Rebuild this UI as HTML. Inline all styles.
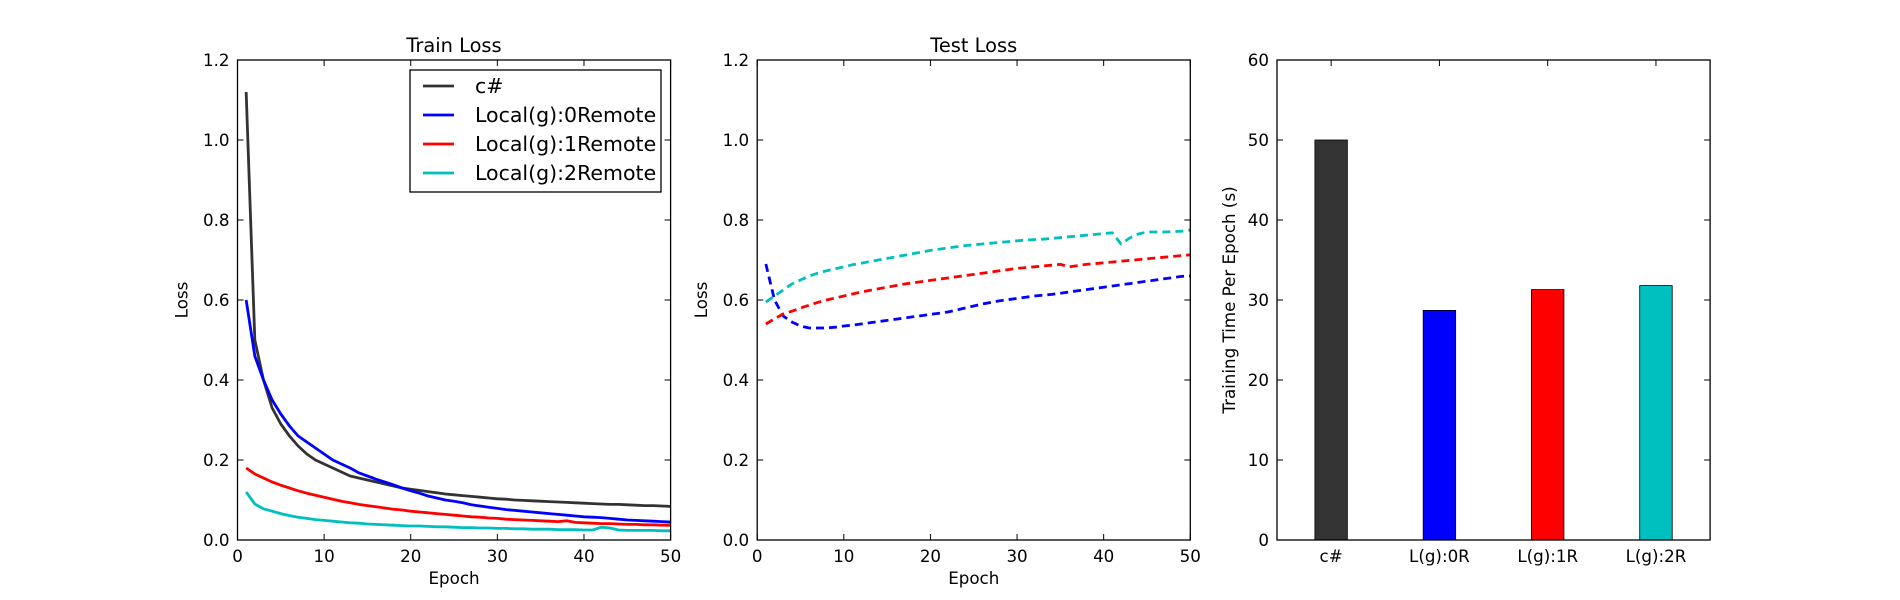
<!DOCTYPE html>
<html><head><meta charset="utf-8"><style>
html,body{margin:0;padding:0;background:#fff;}
svg{display:block;font-family:"DejaVu Sans","Liberation Sans",sans-serif;}
</style></head><body>
<svg id="fig" width="1900" height="600" viewBox="0 0 1900 600" xmlns="http://www.w3.org/2000/svg"></svg>
<script>
const epochs = Array.from({length:50},(_,i)=>i+1);
const trainCsharp = [1.12,0.50,0.40,0.33,0.29,0.26,0.235,0.215,0.2,0.19,0.18,0.17,0.16,0.155,0.15,0.145,0.14,0.135,0.13,0.127,0.124,0.121,0.118,0.115,0.113,0.111,0.109,0.107,0.105,0.103,0.102,0.1,0.099,0.098,0.097,0.096,0.095,0.094,0.093,0.092,0.091,0.09,0.089,0.089,0.088,0.087,0.086,0.086,0.085,0.084];
const trainL0 = [0.60,0.46,0.40,0.35,0.315,0.285,0.26,0.245,0.23,0.215,0.2,0.19,0.18,0.168,0.16,0.152,0.145,0.138,0.13,0.123,0.117,0.11,0.105,0.1,0.097,0.093,0.088,0.085,0.082,0.079,0.076,0.074,0.072,0.07,0.068,0.066,0.064,0.062,0.06,0.058,0.057,0.056,0.054,0.052,0.05,0.049,0.048,0.047,0.046,0.045];
const trainL1 = [0.18,0.165,0.155,0.145,0.137,0.13,0.123,0.117,0.112,0.107,0.102,0.097,0.093,0.089,0.086,0.083,0.08,0.077,0.075,0.072,0.07,0.068,0.066,0.064,0.062,0.06,0.058,0.057,0.055,0.054,0.052,0.051,0.05,0.049,0.048,0.047,0.046,0.048,0.044,0.043,0.042,0.041,0.041,0.04,0.039,0.039,0.038,0.038,0.037,0.037];
const trainL2 = [0.12,0.09,0.078,0.072,0.066,0.061,0.057,0.054,0.051,0.049,0.047,0.045,0.043,0.042,0.04,0.039,0.038,0.037,0.036,0.035,0.035,0.034,0.033,0.033,0.032,0.031,0.031,0.03,0.03,0.029,0.029,0.028,0.028,0.027,0.027,0.027,0.026,0.026,0.026,0.025,0.025,0.032,0.03,0.025,0.024,0.024,0.024,0.024,0.023,0.023];
const testL0 = [0.69,0.60,0.56,0.545,0.535,0.53,0.53,0.53,0.532,0.535,0.537,0.54,0.543,0.546,0.549,0.552,0.555,0.558,0.561,0.564,0.567,0.57,0.575,0.58,0.585,0.59,0.594,0.598,0.601,0.604,0.607,0.61,0.612,0.614,0.617,0.62,0.623,0.626,0.629,0.632,0.635,0.638,0.641,0.644,0.647,0.65,0.653,0.656,0.659,0.66];
const testL1 = [0.54,0.553,0.565,0.572,0.58,0.587,0.594,0.6,0.605,0.61,0.615,0.62,0.624,0.628,0.632,0.636,0.64,0.643,0.646,0.649,0.652,0.655,0.658,0.661,0.664,0.667,0.67,0.673,0.676,0.679,0.681,0.683,0.685,0.687,0.689,0.683,0.686,0.689,0.691,0.693,0.695,0.697,0.699,0.701,0.703,0.705,0.707,0.709,0.711,0.713];
const testL2 = [0.595,0.61,0.625,0.64,0.65,0.66,0.667,0.673,0.678,0.683,0.688,0.692,0.696,0.7,0.704,0.708,0.712,0.716,0.72,0.724,0.727,0.73,0.733,0.736,0.738,0.74,0.742,0.744,0.746,0.748,0.75,0.751,0.752,0.754,0.756,0.758,0.76,0.762,0.764,0.766,0.768,0.74,0.755,0.765,0.77,0.77,0.77,0.771,0.772,0.775];
const barCategories = ["c#","L(g):0R","L(g):1R","L(g):2R"];
const barValues = [50,28.7,31.3,31.8];
const legendLabels = ["c#","Local(g):0Remote","Local(g):1Remote","Local(g):2Remote"];
const lossTicks = [0,0.2,0.4,0.6,0.8,1.0,1.2];
const lossTickLabels = ["0.0","0.2","0.4","0.6","0.8","1.0","1.2"];
const epochTicks = [0,10,20,30,40,50];
const timeTicks = [0,10,20,30,40,50,60];

const NS="http://www.w3.org/2000/svg";
const fig=document.getElementById('fig');
function el(tag,attrs,parent,text){const e=document.createElementNS(NS,tag);for(const k in attrs)e.setAttribute(k,attrs[k]);if(text!==undefined)e.textContent=text;(parent||fig).appendChild(e);return e;}
const TOP=60,BOT=540,W=433.1;
const lefts=[237.5,757.2,1277.0];
const colors=["#333333","#0000ff","#ff0000","#00bfbf"];
function mkScale(d0,d1,r0,r1){return v=>r0+(v-d0)/(d1-d0)*(r1-r0);}

function axesFrame(i,xs,ys,xt,xtl,yt,ytl,title,xlabel,ylabel){
  const L=lefts[i],R=L+W;
  const g=el('g',{});
  
  
  xt.forEach((v,k)=>{const x=xs(v);
    el('line',{x1:x,x2:x,y1:BOT,y2:BOT-6,stroke:'#000','stroke-width':1},g);
    el('line',{x1:x,x2:x,y1:TOP,y2:TOP+6,stroke:'#000','stroke-width':1},g);
    const tx=el('text',{x:x,y:BOT+22,'text-anchor':'middle','font-size':'16.7px'},g,xtl[k]);
    
    
  });
  yt.forEach((v,k)=>{const y=ys(v);
    el('line',{x1:L,x2:L+6,y1:y,y2:y,stroke:'#000','stroke-width':1},g);
    el('line',{x1:R,x2:R-6,y1:y,y2:y,stroke:'#000','stroke-width':1},g);
    const tx=el('text',{x:L-8,y:y+6,'text-anchor':'end','font-size':'16.7px'},g,ytl[k]);
    
    
  });
  const tt=el('text',{x:L+W/2,y:TOP-8,'text-anchor':'middle','font-size':'19.4px'},g,title);
  
  
  if(xlabel){const xl=el('text',{x:L+W/2,y:BOT+44,'text-anchor':'middle','font-size':'16.7px'},g,xlabel);
    
    }
  const yx=i===2?L-42:L-50;
  const yl=el('text',{x:yx,y:(TOP+BOT)/2,'text-anchor':'middle','font-size':'16.7px',transform:`rotate(-90 ${yx} ${(TOP+BOT)/2})`},g,ylabel);
  
  
  return g;
}
function border(i){const b=el('rect',{x:lefts[i],y:TOP,width:W,height:BOT-TOP,fill:'none',stroke:'#000','stroke-width':1.3});
  
  }
function line(xs,ys,vals,color,dash,name){
  const d=vals.map((v,k)=>(k?'L':'M')+xs(epochs[k]).toFixed(2)+','+ys(v).toFixed(2)).join('');
  const p=el('path',{d:d,fill:'none',stroke:color,'stroke-width':2.8,'stroke-linejoin':'round'});
  if(dash)p.setAttribute('stroke-dasharray','8,5');
  
  
}
// Panel 1
{const xs=mkScale(0,50,lefts[0],lefts[0]+W),ys=mkScale(0,1.2,BOT,TOP);
 axesFrame(0,xs,ys,epochTicks,epochTicks.map(String),lossTicks,lossTickLabels,'Train Loss','Epoch','Loss');
 line(xs,ys,trainCsharp,colors[0],false,'train-line-csharp');
 line(xs,ys,trainL0,colors[1],false,'train-line-local0');
 line(xs,ys,trainL1,colors[2],false,'train-line-local1');
 line(xs,ys,trainL2,colors[3],false,'train-line-local2');
 border(0);
 const lg=el('g',{});
 
 
 el('rect',{x:410,y:70,width:251,height:122,fill:'#fff',stroke:'#000','stroke-width':1.3},lg);
 legendLabels.forEach((lab,k)=>{const y=86+k*29;
   const e=el('g',{},lg);
   
   
   el('line',{x1:423,x2:454,y1:y,y2:y,stroke:colors[k],'stroke-width':2.8},e);
   el('text',{x:475,y:y+7,'font-size':'20.5px'},e,lab);
 });
}
// Panel 2
{const xs=mkScale(0,50,lefts[1],lefts[1]+W),ys=mkScale(0,1.2,BOT,TOP);
 axesFrame(1,xs,ys,epochTicks,epochTicks.map(String),lossTicks,lossTickLabels,'Test Loss','Epoch','Loss');
 line(xs,ys,testL0,colors[1],true,'test-line-local0');
 line(xs,ys,testL1,colors[2],true,'test-line-local1');
 line(xs,ys,testL2,colors[3],true,'test-line-local2');
 border(1);
}
// Panel 3
{const xs=mkScale(-0.5,3.5,lefts[2],lefts[2]+W),ys=mkScale(0,60,BOT,TOP);
 axesFrame(2,xs,ys,[0,1,2,3],barCategories,timeTicks,timeTicks.map(String),'',null,'Training Time Per Epoch (s)');
 barValues.forEach((v,k)=>{const x0=xs(k-0.15),x1=xs(k+0.15);
   const r=el('rect',{x:x0,y:ys(v),width:x1-x0,height:ys(0)-ys(v),fill:colors[k],stroke:'#000','stroke-width':0.8});
   
   
 });
 border(2);
}
</script>
</body></html>
